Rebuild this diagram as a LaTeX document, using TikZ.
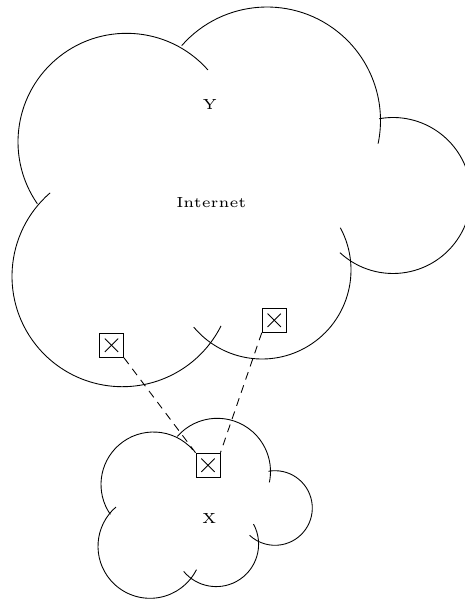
\documentclass[tikz,border=0pt]{standalone}
\usepackage{tikz}
\usepackage{graphicx}

\begin{document}
\begin{tikzpicture}[
    x=0.02cm, y=-0.02cm,
    line width=0.5pt,
    txt/.style={inner sep=0pt, font=\fontsize{5}{6}\selectfont},
    probe/.style={rectangle, draw, minimum size=0.48cm, inner sep=0pt,
        path picture={
            \draw ([shift={(-3.8pt,-3.8pt)}]path picture bounding box.center) -- ([shift={(3.8pt,3.8pt)}]path picture bounding box.center);
            \draw ([shift={(-3.8pt,3.8pt)}]path picture bounding box.center) -- ([shift={(3.8pt,-3.8pt)}]path picture bounding box.center);
        }},
    link/.style={dash pattern=on 4.5pt off 3.4pt}
]
    \useasboundingbox (0,0) rectangle (464,599);

    % Internet cloud
    \draw (126.6,141.9) ++(-41.5:108.6) arc[start angle=-41.5, end angle=-214.7, radius=108.6];
    \draw (267,120.5) ++(-138.7:113.5) arc[start angle=-138.7, end angle=11.75, radius=113.5];
    \draw (393,195.5) ++(-100.3:78) arc[start angle=-100.3, end angle=132.9, radius=78];
    \draw (262,270) ++(-28.3:89) arc[start angle=-28.3, end angle=140.1, radius=89];
    \draw (122.4,276.3) ++(229.1:110.4) arc[start angle=229.1, end angle=26.7, radius=110.4];

    % X cloud
    \draw (153.5,484.5) ++(-41.5:52.5) arc[start angle=-41.5, end angle=-214.7, radius=52.5];
    \draw (217.3,471.5) ++(-138.7:53.2) arc[start angle=-138.7, end angle=11.75, radius=53.2];
    \draw (275,508) ++(-100.3:37.3) arc[start angle=-100.3, end angle=132.9, radius=37.3];
    \draw (216.2,544.2) ++(-28.3:42.4) arc[start angle=-28.3, end angle=140.1, radius=42.4];
    \draw (150,546.3) ++(229.1:52) arc[start angle=229.1, end angle=26.7, radius=52];

    % Labels
    \node[txt] (y) at (209.7,104.7) {\scalebox{1.66}{Y}};
    \node[txt] (inet) at (211.3,202.8) {\scalebox{1.66}{Internet}};
    \node[txt] (x) at (209.3,518.3) {\scalebox{1.66}{X}};

    % Boxes
    \node[probe] (p1) at (111.5,345.3) {};
    \node[probe] (p3) at (274.2,320.3) {};
    \node[probe] (p2) at (208,465.2) {};

    % Links
    \draw[link] (p1.south east) -- (p2.north west);
    \draw[link] (p3.south west) -- (p2.north east);

\end{tikzpicture}
\end{document}
